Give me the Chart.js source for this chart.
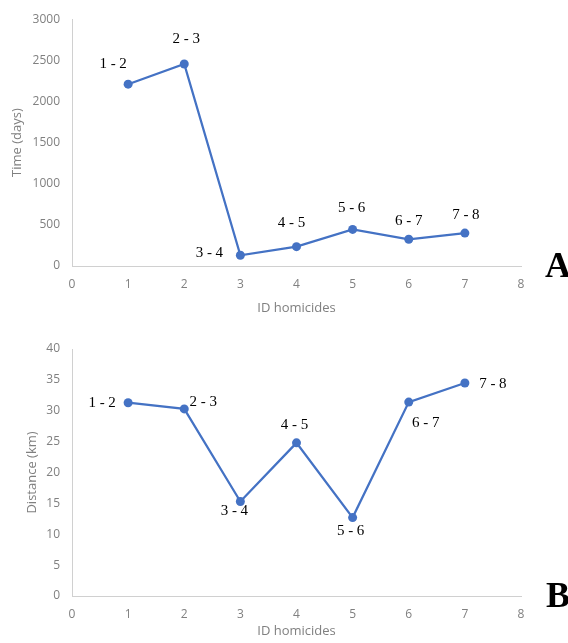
<!DOCTYPE html>
<html>
<head>
<meta charset="utf-8">
<script src="https://cdn.jsdelivr.net/npm/chart.js@4"></script>
<style>
  html, body { margin: 0; padding: 0; background: #ffffff; }
  body { width: 568px; height: 643px; position: relative; overflow: hidden; }
  #wrapA { position: absolute; left: 0; top: 0; width: 568px; height: 320px; }
  #wrapB { position: absolute; left: 0; top: 320px; width: 568px; height: 323px; }
  .panel { position: absolute; font: bold 36px 'Liberation Serif', 'Times New Roman', serif; line-height: 36px; color: #000; }
</style>
</head>
<body>
<div id="wrapA"><canvas id="chartA" width="568" height="320"></canvas></div>
<div id="wrapB"><canvas id="chartB" width="568" height="323"></canvas></div>
<div class="panel" style="left:545px; top:247px;">A</div>
<div class="panel" style="left:546px; top:577px;">B</div>
<script>
// ---- data ----
const homicideIds = [1, 2, 3, 4, 5, 6, 7];
const pairLabels = ["1 - 2", "2 - 3", "3 - 4", "4 - 5", "5 - 6", "6 - 7", "7 - 8"];
const timeDays = [2210, 2455, 130, 235, 445, 325, 400];
const distanceKm = [31.3, 30.3, 15.3, 24.8, 12.7, 31.4, 34.5];
const xTicks = [0, 1, 2, 3, 4, 5, 6, 7, 8];
const timeTicks = [0, 500, 1000, 1500, 2000, 2500, 3000];
const distanceTicks = [0, 5, 10, 15, 20, 25, 30, 35, 40];

// ---- style (label offsets in px relative to each marker) ----
const labelOffsetsA = [[-15, -20], [2, -25], [-31, -2], [-5, -24], [-1, -21], [0, -18], [1, -18]];
const labelOffsetsB = [[-26, 0], [19, -7], [-6, 10], [-2, -18], [-2, 13], [17, 21], [28, 1]];

const BLUE = '#4472C4';
const GREY_TEXT = '#808080';
const AXIS_LINE = '#d0d0d0';

const pointLabelPlugin = {
  id: 'pointLabels',
  afterDatasetsDraw(chart, args, opts) {
    const ctx = chart.ctx;
    const meta = chart.getDatasetMeta(0);
    ctx.save();
    ctx.font = '15px "Liberation Serif", "Times New Roman", serif';
    ctx.fillStyle = '#000000';
    ctx.textAlign = 'center';
    ctx.textBaseline = 'middle';
    meta.data.forEach((pt, i) => {
      const off = opts.offsets[i];
      ctx.fillText(opts.labels[i], pt.x + off[0], pt.y + off[1]);
    });
    ctx.restore();
  }
};

function makeChart(canvasId, values, yTicks, yTitle, yTitlePad, topPad, bottomHeight, offsets) {
  const points = homicideIds.map((id, i) => ({ x: id, y: values[i] }));
  return new Chart(document.getElementById(canvasId), {
    type: 'line',
    data: {
      datasets: [{
        data: points,
        borderColor: BLUE,
        backgroundColor: BLUE,
        borderWidth: 2.25,
        pointRadius: 4.5,
        pointHoverRadius: 4.5,
        pointBackgroundColor: BLUE,
        pointBorderColor: BLUE,
        pointBorderWidth: 0,
        tension: 0,
        fill: false
      }]
    },
    options: {
      responsive: false,
      animation: false,
      events: [],
      layout: { padding: { top: topPad, right: 47, left: 0, bottom: 0 } },
      plugins: {
        legend: { display: false },
        tooltip: { enabled: false },
        pointLabels: { labels: pairLabels, offsets: offsets }
      },
      scales: {
        x: {
          type: 'linear',
          min: xTicks[0],
          max: xTicks[xTicks.length - 1],
          afterBuildTicks: (s) => { s.ticks = xTicks.map(v => ({ value: v })); },
          afterFit: (s) => { s.height = bottomHeight; },
          grid: { display: false, drawTicks: false },
          border: { display: true, color: AXIS_LINE, width: 1 },
          ticks: { color: GREY_TEXT, font: { family: '"Open Sans", sans-serif', size: 12 }, padding: 11, maxRotation: 0, callback: (v) => String(v) },
          title: { display: true, text: 'ID homicides', color: GREY_TEXT, font: { family: '"Open Sans", sans-serif', size: 13 }, padding: { top: 0, bottom: 4 } }
        },
        y: {
          type: 'linear',
          min: yTicks[0],
          max: yTicks[yTicks.length - 1],
          afterBuildTicks: (s) => { s.ticks = yTicks.map(v => ({ value: v })); },
          afterFit: (s) => { s.width = 72; },
          grid: { display: false, drawTicks: false },
          border: { display: true, color: AXIS_LINE, width: 1 },
          ticks: { color: GREY_TEXT, font: { family: '"Open Sans", sans-serif', size: 12 }, padding: 12, callback: (v) => String(v) },
          title: { display: true, text: yTitle, color: GREY_TEXT, font: { family: '"Open Sans", sans-serif', size: 13 }, padding: { top: yTitlePad, bottom: 0 } }
        }
      }
    },
    plugins: [pointLabelPlugin]
  });
}

makeChart('chartA', timeDays, timeTicks, 'Time (days)', 9, 18, 54, labelOffsetsA);
makeChart('chartB', distanceKm, distanceTicks, 'Distance (km)', 24, 29, 47, labelOffsetsB);
</script>
</body>
</html>
